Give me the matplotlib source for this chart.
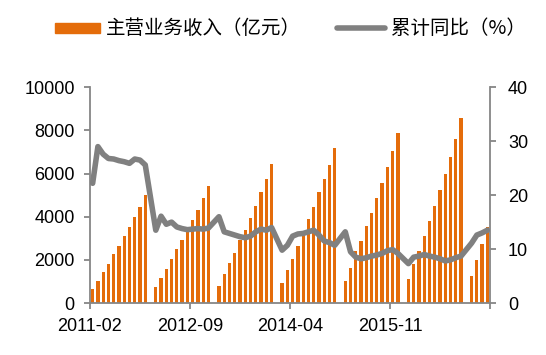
import numpy as np
import pandas as pd
import matplotlib
matplotlib.use("Agg")
import matplotlib.pyplot as plt
from matplotlib.patches import Rectangle
from matplotlib.lines import Line2D

# ---- data (Feb..Dec of each year; January has no value) ----
years = [2011, 2012, 2013, 2014, 2015, 2016, 2017]
rev_2011 = [640, 1010, 1420, 1800, 2260, 2660, 3110, 3530, 3990, 4470, 5010]
rev_2012 = [730, 1175, 1590, 2030, 2490, 2920, 3360, 3850, 4315, 4890, 5430]
rev_2013 = [800, 1345, 1840, 2335, 2910, 3400, 3960, 4520, 5135, 5755, 6450]
rev_2014 = [930, 1515, 2040, 2660, 3150, 3910, 4470, 5135, 5755, 6420, 7190]
rev_2015 = [1035, 1625, 2410, 2860, 3575, 4190, 4860, 5555, 6295, 7070, 7870]
rev_2016 = [1130, 1795, 2430, 3110, 3820, 4520, 5230, 5970, 6760, 7625, 8570]
rev_2017 = [1250, 1995, 2740, 3525]

yoy_2011 = [22.2, 29.0, 27.6, 26.8, 26.7, 26.4, 26.2, 25.9, 26.7, 26.5, 25.6]
yoy_2012 = [13.5, 16.1, 14.6, 15.0, 14.1, 13.8, 13.6, 13.7, 13.8, 13.7, 13.9]
yoy_2013 = [16.0, 13.2, 12.9, 12.6, 12.3, 12.1, 12.4, 13.2, 13.7, 13.5, 14.0]
yoy_2014 = [9.8, 10.7, 12.4, 12.8, 12.9, 13.2, 13.5, 12.6, 11.5, 11.2, 10.7]
yoy_2015 = [13.2, 9.5, 8.5, 8.2, 8.4, 8.7, 8.9, 9.2, 9.7, 9.9, 9.2]
yoy_2016 = [7.3, 8.5, 8.7, 9.0, 8.7, 8.5, 8.2, 7.8, 8.0, 8.4, 8.7]
yoy_2017 = [11.1, 12.6, 13.0, 13.5]

rev_by_year = [rev_2011, rev_2012, rev_2013, rev_2014, rev_2015, rev_2016, rev_2017]
yoy_by_year = [yoy_2011, yoy_2012, yoy_2013, yoy_2014, yoy_2015, yoy_2016, yoy_2017]

legend_bar = "主营业务收入（亿元）"
legend_line = "累计同比（%）"
tick_labels = ["2011-02", "2012-09", "2014-04", "2015-11", ""]

# ---- build monthly series (Jan = NaN) ----
months = pd.period_range("2011-02", "2017-05", freq="M")
rev = pd.Series(np.nan, index=months)
yoy = pd.Series(np.nan, index=months)
for y, r, g in zip(years, rev_by_year, yoy_by_year):
    for k, (rv, gv) in enumerate(zip(r, g)):
        p = pd.Period(f"{y}-{k + 2:02d}", freq="M")
        rev[p] = rv
        yoy[p] = gv

x = np.arange(len(months))

ORANGE = "#E46C0A"
GRAY = "#808080"
AX = "#868686"

plt.rcParams["font.family"] = ["Liberation Sans", "DejaVu Sans"]

fig = plt.figure(figsize=(5.46, 3.55), dpi=100)
ax = fig.add_axes([90 / 546, 1 - 303 / 355, 400 / 546, (303 - 87.3) / 355])
ax2 = ax.twinx()

ax.bar(x, rev.values, width=0.62, color=ORANGE, zorder=2)
valid = ~np.isnan(yoy.values)
ax2.plot(x[valid], yoy.values[valid], color=GRAY, lw=4.0,
         solid_joinstyle="round", solid_capstyle="round", zorder=3)

ax.set_xlim(-0.5, len(months) - 0.5)
ax.set_ylim(0, 10000)
ax2.set_ylim(0, 40)
ax.set_yticks(np.arange(0, 10001, 2000))
ax2.set_yticks(np.arange(0, 41, 10))

tick_pos = [-0.5, 18.5, 37.5, 56.5, len(months) - 0.5]
ax.set_xticks(tick_pos)
ax.set_xticklabels(tick_labels)

# put line above bars
ax.set_zorder(1)
ax2.set_zorder(2)
ax2.patch.set_visible(False)

for a in (ax, ax2):
    a.spines["top"].set_visible(False)
    for s in ("left", "right", "bottom"):
        a.spines[s].set_color(AX)
        a.spines[s].set_linewidth(1.3)
    a.tick_params(colors=AX, labelcolor="black", labelsize=13, length=4, width=1.3)
ax.spines["right"].set_visible(False)
ax2.spines["left"].set_visible(False)
ax2.spines["bottom"].set_visible(False)
ax.tick_params(axis="y", pad=7)
ax2.tick_params(axis="y", pad=9)
ax.tick_params(axis="x", pad=7)

# ---- legend drawn at the top ----
cjk = ["Noto Sans CJK SC", "DejaVu Sans"]
fig.patches.append(Rectangle((55 / 546, 1 - 33 / 355), 45 / 546, 10 / 355,
                             transform=fig.transFigure, color=ORANGE))
fig.text(106 / 546, 1 - 28 / 355, legend_bar, family=cjk, fontsize=14,
         va="center", ha="left")
fig.lines.append(Line2D([337 / 546, 385 / 546], [1 - 28 / 355, 1 - 28 / 355],
                        transform=fig.transFigure, color=GRAY, lw=4.0,
                        solid_capstyle="round"))
fig.text(391 / 546, 1 - 28 / 355, legend_line, family=cjk, fontsize=14,
         va="center", ha="left")

fig.savefig("out.png", dpi=100)
